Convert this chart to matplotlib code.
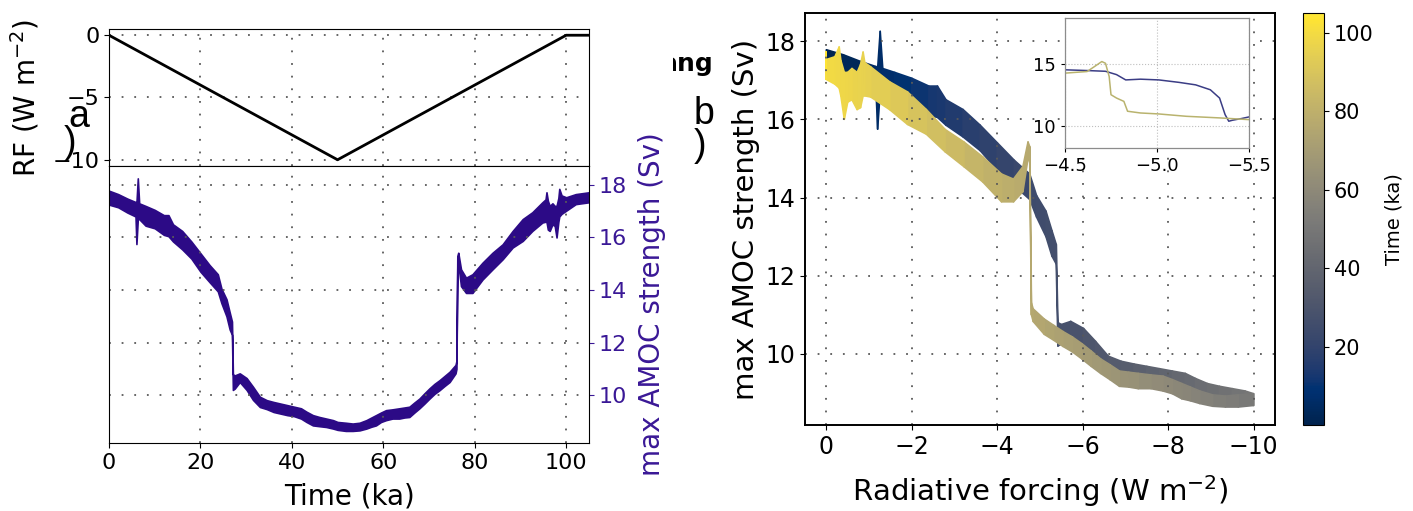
import numpy as np
import matplotlib
matplotlib.use("Agg")
import matplotlib.pyplot as plt
from matplotlib.collections import PolyCollection
from matplotlib.colors import Normalize
from matplotlib.cm import ScalarMappable
from matplotlib.transforms import Bbox

# radiative forcing schedule (ka, W m-2)
rf_time = [0, 50, 100, 105]
rf_value = [0, -10, 0, 0]

# max AMOC band: time (ka), lower / upper edge of the noisy band (Sv)
amoc_time = [0.0, 2.0, 4.0, 5.8, 6.0, 6.3, 6.6, 8.0, 10.0, 12.0,
             13.0, 14.0, 16.0, 18.0, 20.0, 22.0, 23.8, 24.6, 25.7, 26.4,
             26.9, 27.1, 27.5, 28.6, 30.1, 31.5, 33.0, 34.5, 36.0, 37.5,
             39.0, 40.5, 42.0, 43.2, 44.6, 46.0, 47.5, 49.0, 50.0, 51.8,
             53.3, 54.8, 56.3, 57.4, 58.4, 59.5, 60.6, 62.0, 63.5, 64.6,
             65.7, 66.8, 67.9, 69.0, 70.1, 71.2, 72.3, 73.4, 74.5, 75.8,
             76.0, 76.2, 76.4, 77.0, 78.1, 79.5, 81.7, 83.9, 86.1, 88.3,
             90.5, 92.6, 94.8, 95.5, 95.7, 96.0, 96.4, 97.0, 97.5, 97.9,
             98.3, 98.5, 99.0, 100.0, 102.1, 105.0]
amoc_lo = [17.25, 17.15, 16.95, 16.8, 15.75, 16.7, 16.7, 16.45, 16.35, 16.1,
           16.05, 15.85, 15.55, 15.2, 14.7, 14.3, 13.95, 13.5, 13.0, 12.5,
           12.3, 10.2, 10.25, 10.5, 10.2, 9.82, 9.55, 9.47, 9.36, 9.3,
           9.24, 9.2, 9.11, 8.98, 8.85, 8.82, 8.79, 8.73, 8.68, 8.64,
           8.64, 8.66, 8.73, 8.8, 8.85, 8.98, 9.05, 9.11, 9.11, 9.15,
           9.17, 9.34, 9.5, 9.68, 9.87, 10.05, 10.19, 10.35, 10.5, 10.83,
           11.0, 14.9, 15.0, 14.15, 13.89, 13.89, 14.4, 14.79, 15.17, 15.62,
           15.87, 16.25, 16.57, 16.6, 16.6, 16.3, 16.25, 16.5, 16.44, 16.0,
           16.6, 16.8, 16.9, 17.02, 17.27, 17.34]
amoc_hi = [17.78, 17.65, 17.48, 17.35, 17.3, 18.25, 17.3, 17.2, 17.05, 16.85,
           16.85, 16.5, 16.25, 15.85, 15.4, 14.95, 14.6, 14.05, 13.65, 13.15,
           12.8, 10.8, 10.75, 10.83, 10.65, 10.32, 9.94, 9.81, 9.74, 9.68,
           9.62, 9.56, 9.5, 9.37, 9.24, 9.17, 9.11, 9.05, 8.98, 8.95,
           8.92, 8.95, 9.05, 9.15, 9.24, 9.34, 9.43, 9.46, 9.5, 9.53,
           9.56, 9.72, 9.87, 10.07, 10.26, 10.43, 10.57, 10.73, 10.89, 11.15,
           11.3, 15.3, 15.42, 14.79, 14.47, 14.6, 15.04, 15.42, 15.74, 16.25,
           16.7, 16.96, 17.34, 17.45, 17.72, 17.4, 17.2, 17.3, 17.2, 17.2,
           17.5, 17.85, 17.6, 17.53, 17.65, 17.72]
# forcing at each of those times (W m-2)
amoc_rf = [0.0, -0.4, -0.8, -1.16, -1.2, -1.26, -1.32, -1.6, -2.0, -2.4,
           -2.6, -2.8, -3.2, -3.6, -4.0, -4.4, -4.76, -4.92, -5.14, -5.28,
           -5.38, -5.42, -5.5, -5.72, -6.02, -6.3, -6.6, -6.9, -7.2, -7.5,
           -7.8, -8.1, -8.4, -8.64, -8.92, -9.2, -9.5, -9.8, -10.0, -9.64,
           -9.34, -9.04, -8.74, -8.52, -8.32, -8.1, -7.88, -7.6, -7.3, -7.08,
           -6.86, -6.64, -6.42, -6.2, -5.98, -5.76, -5.54, -5.32, -5.1, -4.84,
           -4.8, -4.76, -4.72, -4.6, -4.38, -4.1, -3.66, -3.22, -2.78, -2.34,
           -1.9, -1.48, -1.04, -0.9, -0.86, -0.8, -0.72, -0.6, -0.5, -0.42,
           -0.34, -0.3, -0.2, 0.0, 0.0, 0.0]

# inset: zoom on the tipping window
inset_rf_fwd = [-4.5, -4.62, -4.72, -4.78, -4.83, -4.91, -5.01, -5.12,
                -5.21, -5.29, -5.34, -5.37, -5.39, -5.41, -5.46, -5.5]
inset_amoc_fwd = [14.52, 14.46, 14.4, 14.13, 13.7, 13.76, 13.7, 13.5,
                  13.3, 12.9, 12.23, 10.89, 10.35, 10.43, 10.57, 10.7]
inset_rf_bwd = [-4.5, -4.62, -4.66, -4.70, -4.72, -4.74, -4.75, -4.78,
                -4.82, -4.84, -4.91, -5.01, -5.16, -5.34, -5.5]
inset_amoc_bwd = [14.25, 14.38, 14.78, 15.19, 15.05, 13.98, 12.5, 12.23,
                  11.96, 11.16, 11.02, 10.94, 10.75, 10.62, 10.48]

W, H = 1413, 511
AMOC_COL = "#2c0a86"
LABEL_COL = "#3a1896"
GRID = dict(linestyle=(0, (1, 6)), linewidth=1.3, color="0.35")


def fig_rect(x0, y0, x1, y1):
    # pixel box (top-left origin) -> figure fraction rect
    return [x0 / W, 1 - y1 / H, (x1 - x0) / W, (y1 - y0) / H]


fig = plt.figure(figsize=(W / 100, H / 100), dpi=100)

# ---- panel a, top: forcing
ax_rf = fig.add_axes(fig_rect(109, 29, 589, 166))
ax_rf.plot(rf_time, rf_value, color="black", lw=2)
ax_rf.set_xlim(0, 105)
ax_rf.set_ylim(-10.5, 0.5)
ax_rf.set_yticks([0, -5, -10])
ax_rf.set_xticks([20, 40, 60, 80, 100])
ax_rf.tick_params(axis="x", bottom=False, labelbottom=False)
ax_rf.tick_params(axis="y", labelsize=16)
ax_rf.set_ylabel("RF (W m$^{-2}$)", fontsize=20, labelpad=8)
ax_rf.grid(True, **GRID)

# ---- panel a, bottom: AMOC time series
ax_t = fig.add_axes(fig_rect(109, 166, 589, 443))
ax_t.fill_between(amoc_time, amoc_lo, amoc_hi, color=AMOC_COL, lw=1.2)
ax_t.set_xlim(0, 105)
ax_t.set_ylim(8.18, 18.72)
ax_t.set_xticks([0, 20, 40, 60, 80, 100])
ax_t.set_yticks([10, 12, 14, 16, 18])
ax_t.yaxis.tick_right()
ax_t.yaxis.set_label_position("right")
ax_t.tick_params(axis="x", labelsize=16)
ax_t.tick_params(axis="y", labelsize=16, colors=LABEL_COL)
ax_t.set_xlabel("Time (ka)", fontsize=20, labelpad=7)
ax_t.set_ylabel("max AMOC strength (Sv)", fontsize=20, color=LABEL_COL, labelpad=8)
ax_t.grid(True, **GRID)

# ---- panel b: AMOC vs forcing, coloured by time
cmap = plt.get_cmap("cividis")
norm = Normalize(0, 105)
ax_b = fig.add_axes(fig_rect(805, 13, 1275, 425))
t = np.array(amoc_time)
lo = np.array(amoc_lo)
hi = np.array(amoc_hi)
rf = np.array(amoc_rf)
verts = [[(rf[i], lo[i]), (rf[i + 1], lo[i + 1]), (rf[i + 1], hi[i + 1]), (rf[i], hi[i])]
         for i in range(len(t) - 1)]
cols = cmap(norm((t[:-1] + t[1:]) / 2))
ax_b.add_collection(PolyCollection(verts, facecolors=cols, edgecolors=cols, linewidths=1.2))
ax_b.set_xlim(0.5, -10.5)
ax_b.set_ylim(8.18, 18.72)
ax_b.set_xticks([0, -2, -4, -6, -8, -10])
ax_b.set_yticks([10, 12, 14, 16, 18])
ax_b.tick_params(labelsize=17)
ax_b.set_xlabel("Radiative forcing (W m$^{-2}$)", fontsize=21, labelpad=10)
ax_b.set_ylabel("max AMOC strength (Sv)", fontsize=21)
ax_b.grid(True, **GRID)
for s in ax_b.spines.values():
    s.set_linewidth(1.4)

# inset
ax_in = fig.add_axes(fig_rect(1065, 18, 1249, 148))
ax_in.plot(inset_rf_fwd, inset_amoc_fwd, color="#3b3d85", lw=1.1)
ax_in.plot(inset_rf_bwd, inset_amoc_bwd, color="#b9b36e", lw=1.1)
ax_in.set_xlim(-4.5, -5.5)
ax_in.set_ylim(8.18, 18.72)
ax_in.set_xticks([-4.5, -5.0, -5.5])
ax_in.set_yticks([10, 15])
ax_in.tick_params(labelsize=13, length=3, width=0.8)
ax_in.grid(True, linestyle=":", linewidth=0.8, color="0.75")
for s in ax_in.spines.values():
    s.set_color("0.55")
    s.set_linewidth(0.9)

# colorbar
cax = fig.add_axes(fig_rect(1303, 13, 1324, 425))
cb = fig.colorbar(ScalarMappable(norm=norm, cmap=cmap), cax=cax)
cb.set_ticks([20, 40, 60, 80, 100])
cb.ax.tick_params(labelsize=15)
cb.set_label("Time (ka)", fontsize=14, labelpad=8)

# panel tags, as they sit in the original
tag = dict(family="Liberation Sans", fontsize=27, va="baseline", ha="left")
fig.text(68 / W, 1 - 127 / H, "a", **tag)
fig.text(64 / W, 1 - 153 / H, ")", **tag)
fig.text(694 / W, 1 - 124 / H, "b", **tag)
fig.text(694 / W, 1 - 156 / H, ")", **tag)
ang = fig.text(714 / W, 1 - 71 / H, "ang", ha="right", va="baseline",
               fontsize=18, fontweight="bold")
ang.set_clip_box(Bbox.from_extents(673, 0, W, H))
ang.set_clip_on(True)

fig.savefig("out.png", dpi=100)
